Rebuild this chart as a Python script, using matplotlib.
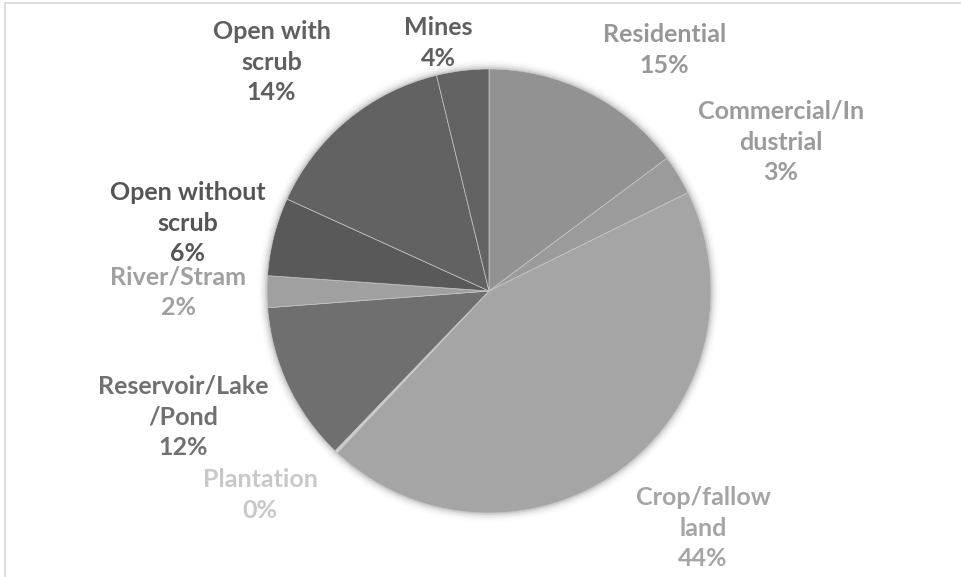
import matplotlib.pyplot as plt
from matplotlib.patches import Circle
import numpy as np

# land use shares (%), clockwise from 12 o'clock
categories = ['Residential', 'Commercial/In\ndustrial', 'Crop/fallow\nland', 'Plantation',
              'Reservoir/Lake\n/Pond', 'River/Stram', 'Open without\nscrub', 'Open with\nscrub', 'Mines']
shares = [14.8, 2.9, 44.3, 0.2, 11.6, 2.3, 5.7, 14.4, 3.8]

colors = ['#929292', '#9b9b9b', '#a5a5a5', '#cfcfcf', '#6f6f6f',
          '#a0a0a0', '#595959', '#626262', '#636363']
label_colors = ['#979797', '#9b9b9b', '#a5a5a5', '#c8c8c8', '#707070',
                '#a0a0a0', '#555555', '#5f5f5f', '#5f5f5f']
# label centres in pie-radius units (layout only)
label_pos = [(0.79, 1.086), (1.315, 0.671), (0.964, -1.068), (-1.03, -0.92),
             (-1.378, -0.568), (-1.40, -0.007), (-1.356, 0.306), (-0.98, 1.03), (-0.23, 1.117)]

fig = plt.figure(figsize=(9.61, 5.77), dpi=100)
ax = fig.add_axes([0, 0, 1, 1])

# soft shadow around the pie
for r, a in zip(np.linspace(1.0, 1.04, 6), [0.10, 0.07, 0.05, 0.03, 0.02, 0.01]):
    ax.add_patch(Circle((0, 0), r, color='black', alpha=a, lw=0, zorder=0))

ax.pie(shares, colors=colors, startangle=90, counterclock=False, radius=1.0,
       wedgeprops=dict(edgecolor='#c8c8c8', linewidth=0.5), normalize=True)

ax.set_aspect('auto')
ax.set_xlim(-489 / 222, (961 - 489) / 222)
ax.set_ylim(-(577 - 291) / 222, 291 / 222)
ax.axis('off')

for name, val, (lx, ly), c in zip(categories, shares, label_pos, label_colors):
    ax.text(lx, ly, f'{name}\n{round(val)}%', ha='center', va='center',
            fontsize=18, fontweight='bold', family='Lato', color=c,
            linespacing=1.4)

# chart frame
fig.add_artist(plt.Line2D([0.005, 1], [0.995, 0.995], color='#d9d9d9', lw=1.2, transform=fig.transFigure))
fig.add_artist(plt.Line2D([0.005, 0.005], [0, 0.995], color='#d9d9d9', lw=1.2, transform=fig.transFigure))

fig.savefig('out.png', dpi=100)
